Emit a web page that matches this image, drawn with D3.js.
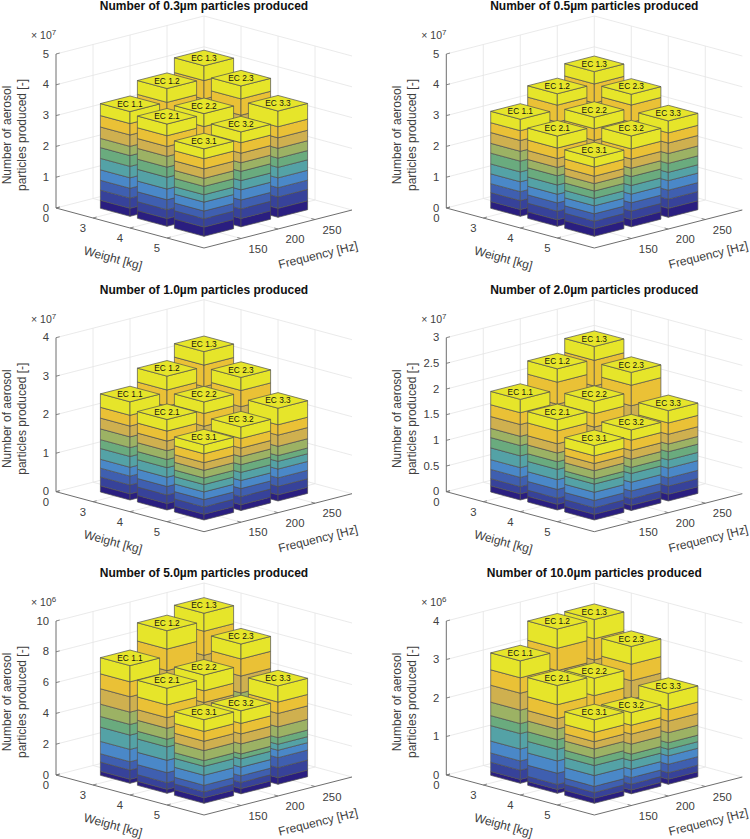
<!DOCTYPE html>
<html><head><meta charset="utf-8">
<style>html,body{margin:0;padding:0;background:#fff}svg{display:block;font-family:"Liberation Sans",Arial,sans-serif}</style>
<script src="https://cdn.jsdelivr.net/npm/d3@7"></script></head><body>
<svg id="c" width="750" height="839"></svg>
<script>
const barNames = ["EC 1.1","EC 1.2","EC 1.3","EC 2.1","EC 2.2","EC 2.3","EC 3.1","EC 3.2","EC 3.3"];
const weightIndex = [1,1,1,2,2,2,3,3,3];
const freqIndex = [1,2,3,1,2,3,1,2,3];
const weightTicks = ["0","3","4","5"];
const freqTicks = ["150","200","250"];
const segmentColors = ["#2a1e80","#37429a","#3f5fb0","#4a88c8","#54a2a6","#6aab7e","#9cb264","#cfb04f","#eac136","#e6e52a"];
const titles = ["Number of 0.3µm particles produced","Number of 0.5µm particles produced","Number of 1.0µm particles produced","Number of 2.0µm particles produced","Number of 5.0µm particles produced","Number of 10.0µm particles produced"];
const exponents = [7,7,7,7,6,6];
const zMaxima = [5,5,4,3,10,4];
const zTicks = [[0,1,2,3,4,5],[0,1,2,3,4,5],[0,1,2,3,4],[0,0.5,1,1.5,2,2.5,3],[0,2,4,6,8,10],[0,1,2,3,4]];
const layers03 = [
[.26,.33,.32,.34,.37,.35,.30,.37,.37,.39],[.30,.33,.33,.36,.38,.38,.34,.47,.50,.45],[.33,.37,.37,.40,.42,.42,.38,.50,.60,.48],
[.25,.29,.32,.35,.38,.33,.35,.32,.35,.38],[.26,.30,.31,.33,.37,.33,.31,.36,.36,.42],[.31,.34,.35,.38,.40,.40,.36,.45,.53,.42],
[.30,.27,.25,.29,.24,.27,.26,.31,.33,.32],[.27,.31,.29,.33,.30,.30,.28,.31,.34,.35],[.29,.37,.30,.32,.34,.30,.32,.34,.36,.51]];
const layers05 = [
[.22,.29,.29,.32,.32,.35,.32,.35,.32,.37],[.28,.32,.31,.34,.35,.36,.33,.46,.55,.37],[.31,.35,.35,.38,.40,.40,.37,.50,.62,.40],
[.21,.28,.27,.28,.30,.30,.27,.29,.34,.39],[.24,.29,.29,.32,.33,.34,.31,.36,.38,.37],[.29,.33,.33,.34,.36,.36,.33,.42,.56,.35],
[.25,.24,.24,.26,.24,.24,.24,.24,.30,.30],[.24,.27,.27,.28,.28,.29,.27,.30,.33,.42],[.29,.30,.29,.31,.27,.29,.32,.34,.33,.39]];
const layers10 = [
[.16,.23,.23,.23,.28,.23,.28,.28,.28,.35],[.18,.26,.26,.27,.31,.27,.33,.31,.42,.36],[.20,.29,.30,.30,.34,.30,.36,.36,.56,.35],
[.17,.22,.22,.24,.25,.21,.23,.25,.26,.30],[.16,.23,.24,.24,.27,.23,.27,.29,.33,.30],[.18,.26,.26,.27,.30,.27,.32,.33,.42,.34],
[.15,.19,.19,.20,.19,.17,.20,.20,.23,.23],[.15,.21,.21,.21,.21,.20,.21,.22,.25,.30],[.16,.22,.22,.23,.20,.15,.24,.29,.27,.43]];
const layers20 = [
[.12,.14,.18,.19,.23,.20,.18,.23,.23,.26],[.14,.17,.20,.22,.25,.23,.21,.26,.43,.26],[.15,.18,.22,.25,.27,.25,.23,.30,.50,.27],
[.11,.12,.17,.19,.20,.15,.17,.18,.25,.22],[.12,.14,.17,.19,.22,.19,.18,.22,.26,.24],[.14,.17,.20,.22,.24,.22,.21,.26,.40,.25],
[.11,.13,.14,.16,.16,.10,.16,.14,.15,.20],[.10,.13,.15,.17,.17,.12,.16,.17,.20,.20],[.13,.16,.16,.19,.16,.16,.15,.19,.22,.24]];
const layers50 = [
[.26,.60,.54,.80,.93,.69,.80,1.00,.97,1.05],[.32,.72,.68,.98,1.15,.85,.95,1.05,1.40,1.19],[.34,.76,.70,1.03,1.20,.90,1.00,1.15,1.56,1.17],
[.26,.43,.65,.80,.87,.50,.71,.69,.83,1.08],[.27,.58,.55,.80,.92,.66,.75,.75,.76,1.02],[.32,.68,.62,.90,1.05,.78,.93,1.10,1.11,.97],
[.36,.38,.43,.65,.58,.37,.65,.61,.64,.76],[.34,.40,.43,.56,.54,.32,.65,.65,.68,.82],[.43,.65,.65,.48,.39,.43,.70,.87,.74,1.05]];
const layers100 = [
[.10,.24,.24,.31,.40,.26,.35,.44,.40,.44],[.12,.27,.27,.37,.44,.29,.40,.52,.58,.50],[.13,.27,.28,.37,.44,.30,.40,.52,.55,.50],
[.10,.13,.29,.32,.30,.25,.28,.27,.36,.50],[.10,.18,.26,.30,.30,.24,.28,.30,.33,.45],[.11,.24,.25,.33,.39,.27,.36,.48,.43,.46],
[.13,.15,.16,.28,.26,.19,.24,.19,.24,.33],[.10,.15,.17,.22,.22,.17,.26,.26,.23,.33],[.13,.17,.22,.22,.17,.17,.26,.30,.30,.42]];
const panelLayers = [layers03,layers05,layers10,layers20,layers50,layers100];

const svg = d3.select("#c");
const originsX = [56,446.3,56,446.3,56,446.3];
const originsY = [208,208,491.7,491.7,775,775];
const wallH = 154;
const wx = d3.scaleLinear().domain([0,4]).range([0,148]);
const wy = d3.scaleLinear().domain([0,4]).range([0,40]);
const fx = d3.scaleLinear().domain([0,4]).range([0,148]);
const fy = d3.scaleLinear().domain([0,4]).range([0,-38]);
const half = 0.4, GRID="#e4e4e4", AXIS="#6e6e6e", TXT="#404040";

panelLayers.forEach((layers,pi)=>{
  const g = svg.append("g").attr("transform",`translate(${originsX[pi]},${originsY[pi]})`);
  const z = d3.scaleLinear().domain([0,zMaxima[pi]]).range([0,-wallH]);
  const P = (w,f,v)=>[wx(w)+fx(f), wy(w)+fy(f)+z(v)];
  const line = d3.line();
  const seg = (a,b,c,w=.8,par=g)=>par.append("path").attr("d",line([a,b])).attr("stroke",c).attr("stroke-width",w).attr("fill","none");
  const zm = zMaxima[pi];
  zTicks[pi].forEach(t=>{ seg(P(0,0,t),P(0,4,t),GRID); seg(P(0,4,t),P(4,4,t),GRID); });
  [1,2,3].forEach(i=>{
    seg(P(0,i,0),P(0,i,zm),GRID); seg(P(i,4,0),P(i,4,zm),GRID);
    seg(P(0,i,0),P(4,i,0),GRID); seg(P(i,0,0),P(i,4,0),GRID);
  });
  seg(P(0,4,0),P(0,4,zm),GRID);
  seg(P(0,0,0),P(0,0,zm),AXIS,1);
  seg(P(0,0,0),P(4,0,0),AXIS,1);
  seg(P(4,0,0),P(4,4,0),AXIS,1);
  zTicks[pi].forEach(t=>{
    seg(P(0,0,t),P(0,0.1,t),AXIS,.8);
    const p=P(0,0,t);
    g.append("text").attr("x",p[0]-7).attr("y",p[1]+3.5).attr("text-anchor","end").attr("font-size",11.3).attr("fill",TXT).text(t);
  });
  weightTicks.forEach((t,i)=>{
    const p=P(i,0,0);
    seg(p,P(i,0.1,0),AXIS,.8);
    g.append("text").attr("x",p[0]-10).attr("y",p[1]+14).attr("text-anchor","middle").attr("font-size",11.3).attr("fill",TXT).text(t);
  });
  freqTicks.forEach((t,i)=>{
    const p=P(4,i+1,0);
    seg(p,P(3.9,i+1,0),AXIS,.8);
    g.append("text").attr("x",p[0]+17).attr("y",p[1]+14).attr("text-anchor","middle").attr("font-size",11.3).attr("fill",TXT).text(t);
  });
  const order = d3.range(9).sort((a,b)=>(weightIndex[a]-freqIndex[a])-(weightIndex[b]-freqIndex[b]));
  order.forEach(b=>{
    const w=weightIndex[b], f=freqIndex[b];
    let acc=0;
    const faces=[];
    layers[b].forEach((h,i)=>{
      const z0=acc, z1=acc+h; acc=z1;
      faces.push({c:segmentColors[i],pts:[P(w-half,f-half,z0),P(w+half,f-half,z0),P(w+half,f-half,z1),P(w-half,f-half,z1)]});
      faces.push({c:segmentColors[i],pts:[P(w+half,f-half,z0),P(w+half,f+half,z0),P(w+half,f+half,z1),P(w+half,f-half,z1)]});
    });
    faces.push({c:segmentColors[9],pts:[P(w-half,f-half,acc),P(w+half,f-half,acc),P(w+half,f+half,acc),P(w-half,f+half,acc)]});
    g.append("g").selectAll("path").data(faces).join("path")
      .attr("d",d=>line(d.pts)+"Z").attr("fill",d=>d.c).attr("stroke","#505050").attr("stroke-width",.7).attr("stroke-linejoin","round");
  });
  barNames.forEach((n,b)=>{
    const acc=d3.sum(layers[b]);
    const p=P(weightIndex[b],freqIndex[b],acc);
    g.append("text").attr("x",p[0]).attr("y",p[1]+3).attr("text-anchor","middle").attr("font-size",8.3).attr("fill","#111").text(n);
  });
  g.append("text").attr("x",148).attr("y",-198).attr("text-anchor","middle").attr("font-size",12).attr("font-weight","bold").attr("fill","#111").text(titles[pi]);
  const ex=g.append("text").attr("x",-25).attr("y",-wallH-15).attr("font-size",10.5).attr("fill",TXT);
  ex.append("tspan").text("× 10");
  ex.append("tspan").attr("dy",-4).attr("font-size",8).text(exponents[pi]);
  const yl=g.append("g").attr("transform",`translate(-45,-73) rotate(-90)`);
  yl.append("text").attr("text-anchor","middle").attr("y",0).attr("font-size",12).attr("fill",TXT).text("Number of aerosol");
  yl.append("text").attr("text-anchor","middle").attr("y",15).attr("font-size",12).attr("fill",TXT).text("particles produced [-]");
  g.append("text").attr("transform","translate(56,54) rotate(15)").attr("text-anchor","middle").attr("font-size",12).attr("fill",TXT).text("Weight [kg]");
  g.append("text").attr("transform","translate(263,51) rotate(-14)").attr("text-anchor","middle").attr("font-size",12).attr("fill",TXT).text("Frequency [Hz]");
});
</script></body></html>
